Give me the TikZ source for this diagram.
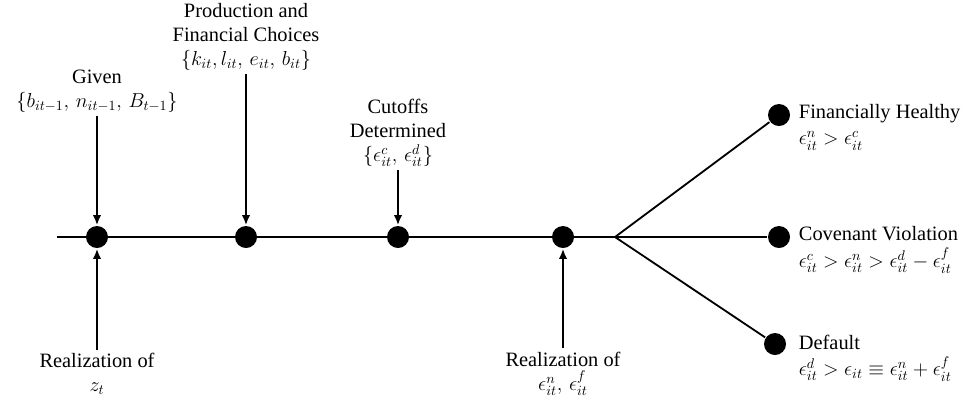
\documentclass[tikz,border=0pt]{standalone}
\usepackage{amsmath, amssymb}
\usepackage{fontspec}
\setmainfont{LiberationSerif}[Extension=.ttf, UprightFont=*-Regular, BoldFont=*-Bold, ItalicFont=*-Italic]
\usepackage{tikz}
\usetikzlibrary{positioning,arrows.meta}

\begin{document}
\begin{tikzpicture}[x=0.025cm, y=-0.025cm,
    line width=1.3pt,
    dot/.style={circle, fill=black, inner sep=0pt, minimum size=0.55cm},
    lbl/.style={align=center, font=\fontsize{14.5}{17}\selectfont, inner sep=2pt},
    rlbl/.style={align=left, anchor=west, font=\fontsize{14.5}{19}\selectfont, inner sep=0pt},
    arr/.style={-{Latex[length=7pt,width=6pt]}}]
  \useasboundingbox (0,0) rectangle (978,404);

  % time line
  \coordinate (start) at (57,237);
  \coordinate (fork) at (615,237);
  \node[dot] (given) at (97,237) {};
  \node[dot] (choice) at (246,237) {};
  \node[dot] (cutoff) at (398,237) {};
  \node[dot] (shock) at (563,237) {};
  \draw (start) -- (fork);

  % outcomes
  \node[dot] (healthy) at (779,115) {};
  \node[dot] (violation) at (779,237) {};
  \node[dot] (default) at (775,344) {};
  \draw (fork) -- (healthy);
  \draw (fork) -- (violation);
  \draw (fork) -- (default);

  % labels above
  \node[lbl] (givenlbl) at (97,91) {Given\\$\{b_{it-1},\, n_{it-1},\, B_{t-1}\}$};
  \node[lbl] (choicelbl) at (246,37) {Production and\\Financial Choices\\$\{k_{it},l_{it},\, e_{it},\, b_{it}\}$};
  \node[lbl] (cutofflbl) at (398,133) {Cutoffs\\Determined\\$\{\epsilon^{c}_{it},\, \epsilon^{d}_{it}\}$};
  \draw[arr] (givenlbl.south) -- (given.north);
  \draw[arr] (choicelbl.south) -- (choice.north);
  \draw[arr] (cutofflbl.south) -- (cutoff.north);

  % labels below
  \node[lbl] (zlbl) at (97,374) {Realization of\\$z_t$};
  \node[lbl] (epslbl) at (563,374) {Realization of\\$\epsilon^{n}_{it},\, \epsilon^{f}_{it}$};
  \draw[arr] (zlbl.north) -- (given.south);
  \draw[arr] (epslbl.north) -- (shock.south);

  % outcome labels
  \node[rlbl] (healthylbl) at (798,127) {Financially Healthy\\$\epsilon^{n}_{it} > \epsilon^{c}_{it}$};
  \node[rlbl] (violationlbl) at (798,250) {Covenant Violation\\$\epsilon^{c}_{it} > \epsilon^{n}_{it} > \epsilon^{d}_{it} - \epsilon^{f}_{it}$};
  \node[rlbl] (defaultlbl) at (798,358) {Default\\$\epsilon^{d}_{it} > \epsilon_{it}\equiv \epsilon^{n}_{it} + \epsilon^{f}_{it}$};
\end{tikzpicture}
\end{document}
